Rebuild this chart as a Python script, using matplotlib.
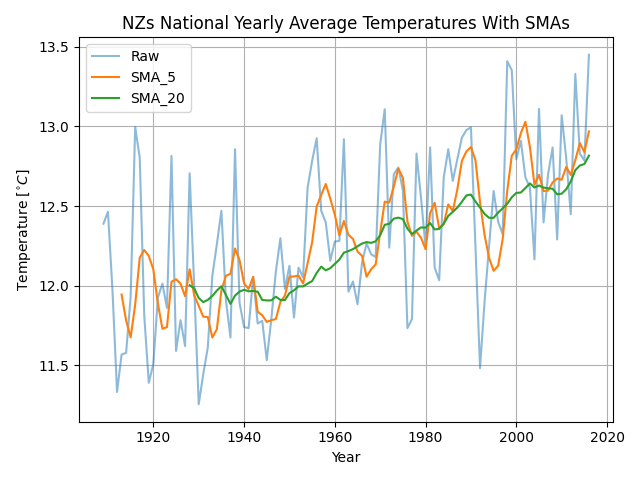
import matplotlib
matplotlib.use("Agg")
import matplotlib.pyplot as plt
import pandas as pd

# años y temperaturas medias anuales
years = list(range(1909, 2017))
raw = [
    12.389, 12.464, 11.968, 11.332, 11.567, 11.578, 11.930, 12.997, 12.804, 11.810,  # 1909-1918
    11.390, 11.509, 11.925, 12.013, 11.860, 12.815, 11.590, 11.783, 11.620, 12.706,  # 1919-1928
    12.000, 11.255, 11.444, 11.611, 12.062, 12.260, 12.470, 11.907, 11.674, 12.857,  # 1929-1938
    11.892, 11.740, 11.733, 12.055, 11.762, 11.779, 11.532, 11.789, 12.088, 12.298,  # 1939-1948
    11.980, 12.124, 11.800, 12.113, 12.051, 12.616, 12.784, 12.926, 12.470, 12.397,  # 1949-1958
    12.156, 12.277, 12.281, 12.920, 11.962, 12.026, 11.883, 12.144, 12.265, 12.197,  # 1959-1968
    12.180, 12.888, 13.108, 12.239, 12.700, 12.742, 12.600, 11.733, 11.790, 12.830,  # 1969-1978
    12.550, 12.240, 12.868, 12.114, 12.034, 12.679, 12.857, 12.658, 12.794, 12.930,  # 1979-1988
    12.977, 12.995, 12.240, 11.482, 11.900, 12.250, 12.595, 12.400, 12.323, 13.410,  # 1989-1998
    13.353, 12.794, 12.910, 12.680, 12.616, 12.165, 13.110, 12.397, 12.700, 12.868,  # 1999-2008
    12.290, 13.070, 12.800, 12.449, 13.330, 12.830, 12.785, 13.450,                  # 2009-2016
]

df = pd.DataFrame({"Year": years, "Raw": raw}).set_index("Year")
df["SMA_5"] = df["Raw"].rolling(window=5).mean()
df["SMA_20"] = df["Raw"].rolling(window=20).mean()

fig, ax = plt.subplots(figsize=(6.4, 4.8), dpi=100)

ax.plot(df.index, df["Raw"], label="Raw", color="C0", alpha=0.5)
ax.plot(df.index, df["SMA_5"], label="SMA_5", color="C1")
ax.plot(df.index, df["SMA_20"], label="SMA_20", color="C2")

ax.set_title("NZs National Yearly Average Temperatures With SMAs")
ax.set_xlabel("Year")
ax.set_ylabel(r"Temperature [$^{\circ}C$]")
ax.grid(True)
ax.legend(loc="upper left")

fig.tight_layout()
plt.savefig("out.png", dpi=100)
